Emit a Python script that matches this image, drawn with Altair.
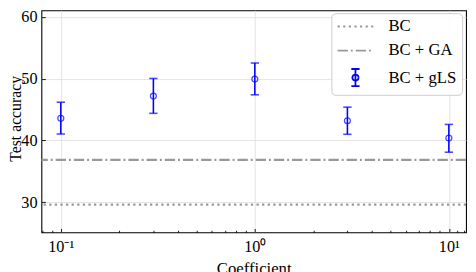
import math
import altair as alt
import pandas as pd

# ---- data ----
coef = [0.1, 0.3, 1, 3, 10]
gls_mean = [43.6, 47.2, 49.95, 43.2, 40.4]
gls_low = [41.05, 44.4, 47.4, 41.0, 38.1]
gls_high = [46.2, 50.05, 52.55, 45.4, 42.6]

line_series = ["BC", "BC + GA"]
line_values = [29.6, 36.85]

legend_series = ["BC", "BC + GA", "BC + gLS"]
legend_colors = ["#999999", "#999999", "#0000ff"]
legend_dashes = [[2.3, 3.4], [10.5, 3, 2, 3], [1, 0]]

# legend glyphs (unit-box SVG paths, M/L commands only)
LINE_GLYPH = "M-2.6,0L2.6,0"
_circ = "M" + "L".join(
    f"{0.45 * math.cos(2 * math.pi * k / 16):.3f},{0.45 * math.sin(2 * math.pi * k / 16):.3f}"
    for k in range(17)
)
ERR_GLYPH = "M0,-1.25L0,1.25M-0.6,-1.25L0.6,-1.25M-0.6,1.25L0.6,1.25" + _circ
legend_shapes = [LINE_GLYPH, LINE_GLYPH, ERR_GLYPH]

x_major = [0.1, 1, 10]
x_tick_labels = ["10\u207b\u00b9", "10\u2070", "10\u00b9"]
x_minor = [0.08, 0.09, 0.2, 0.3, 0.4, 0.5, 0.6, 0.7, 0.8, 0.9,
           2, 3, 4, 5, 6, 7, 8, 9, 11, 12]
y_major = [30, 40, 50, 60]

x_domain = [0.07945, 12.26]
y_domain = [25.1, 61.1]

W, H = 432, 226
FONT = "Liberation Serif"
BLUE = "#0000ff"

gls = pd.DataFrame({"coef": coef, "mean": gls_mean, "low": gls_low, "high": gls_high})
lines = pd.DataFrame({"series": line_series, "value": line_values})

label_expr = " : ".join(
    f"datum.value == {v} ? '{t}'" for v, t in zip(x_major, x_tick_labels)
) + " : ''"

xscale = alt.Scale(type="log", domain=x_domain, nice=False)
yscale = alt.Scale(domain=y_domain, nice=False, zero=False)

main_x_axis = alt.Axis(
    values=x_major, labelExpr=label_expr, grid=True, ticks=False, tickSize=0,
    domain=False, labelFont=FONT, labelFontSize=16.5, labelColor="black",
    labelBaseline="alphabetic", labelPadding=19, labelAlign="center",
    title="Coefficient", titleFont=FONT, titleFontSize=17, titleFontWeight="normal",
    titleColor="black", titleBaseline="alphabetic", titleY=41.5,
    gridColor="#dddddd", gridWidth=0.8, labelFlush=False,
)
main_y_axis = alt.Axis(
    values=y_major, grid=True, ticks=False, tickSize=0, domain=False,
    labelFont=FONT, labelFontSize=16.5, labelColor="black", labelPadding=4.5,
    title="Test accuracy", titleFont=FONT, titleFontSize=16, titleFontWeight="normal",
    titleColor="black", titleBaseline="alphabetic", titleX=-21.3, titleY=110,
    gridColor="#dddddd", gridWidth=0.8,
)

legend = alt.Legend(
    orient="none", legendX=295, legendY=3, title=None,
    labelFont=FONT, labelFontSize=17, labelColor="black",
    symbolSize=196, symbolStrokeWidth=1.8,
    padding=5, rowPadding=6.5, labelOffset=25, symbolOffset=11,
    fillColor="rgba(255,255,255,0.85)", strokeColor="#cccccc", cornerRadius=4,
)

color_enc = alt.Color("series:N", scale=alt.Scale(domain=legend_series, range=legend_colors), legend=legend)
dash_enc = alt.StrokeDash("series:N", scale=alt.Scale(domain=legend_series, range=legend_dashes), legend=legend)
shape_enc = alt.Shape("series:N", scale=alt.Scale(domain=legend_series, range=legend_shapes), legend=legend)

ref_lines = alt.Chart(lines).mark_rule(strokeWidth=2.2).encode(
    y=alt.Y("value:Q", scale=yscale, axis=main_y_axis),
    color=color_enc,
    strokeDash=dash_enc,
)

# invisible layer that only feeds the legend its glyph shapes
legend_feed = alt.Chart(lines).mark_point(filled=False, clip=True, opacity=1).encode(
    x=alt.value(-200), y=alt.value(-200),
    color=color_enc, strokeDash=dash_enc, shape=shape_enc,
)

err = alt.Chart(gls).mark_rule(color=BLUE, strokeWidth=1.6).encode(
    x=alt.X("coef:Q", scale=xscale, axis=main_x_axis),
    y=alt.Y("low:Q", scale=yscale, axis=None),
    y2="high:Q",
)

cap_top = alt.Chart(gls).mark_tick(color=BLUE, orient="horizontal", size=8.5, thickness=1.6).encode(
    x=alt.X("coef:Q", scale=xscale, axis=None),
    y=alt.Y("high:Q", scale=yscale, axis=None),
)
cap_bot = alt.Chart(gls).mark_tick(color=BLUE, orient="horizontal", size=8.5, thickness=1.6).encode(
    x=alt.X("coef:Q", scale=xscale, axis=None),
    y=alt.Y("low:Q", scale=yscale, axis=None),
)

major_test = " || ".join(f"datum.value == {v}" for v in x_major)
pts = alt.Chart(gls).mark_point(shape="circle", size=36, color=BLUE, strokeWidth=1.3, filled=False).encode(
    x=alt.X("coef:Q", scale=xscale, axis=alt.Axis(
        orient="top", offset=-H, values=x_major + x_minor, labels=False, grid=False,
        domain=False, title=None, tickColor="black", tickWidth=0.9,
        tickSize={"condition": {"test": major_test, "value": 4}, "value": 2.2})),
    y=alt.Y("mean:Q", scale=yscale, axis=alt.Axis(
        orient="right", offset=-W, values=y_major, labels=False, grid=False,
        domain=False, title=None, tickColor="black", tickWidth=0.9, tickSize=4)),
)

chart = alt.layer(ref_lines, legend_feed, err, cap_top, cap_bot, pts).resolve_axis(
    x="independent", y="independent"
).properties(
    width=W, height=H,
    autosize=alt.AutoSizeParams(type="none"),
    padding={"left": 34, "top": 0, "right": 2, "bottom": 40},
).configure_view(stroke="black", strokeWidth=1.1)

chart.save("out.html", embed_options={"renderer": "svg", "actions": False})
